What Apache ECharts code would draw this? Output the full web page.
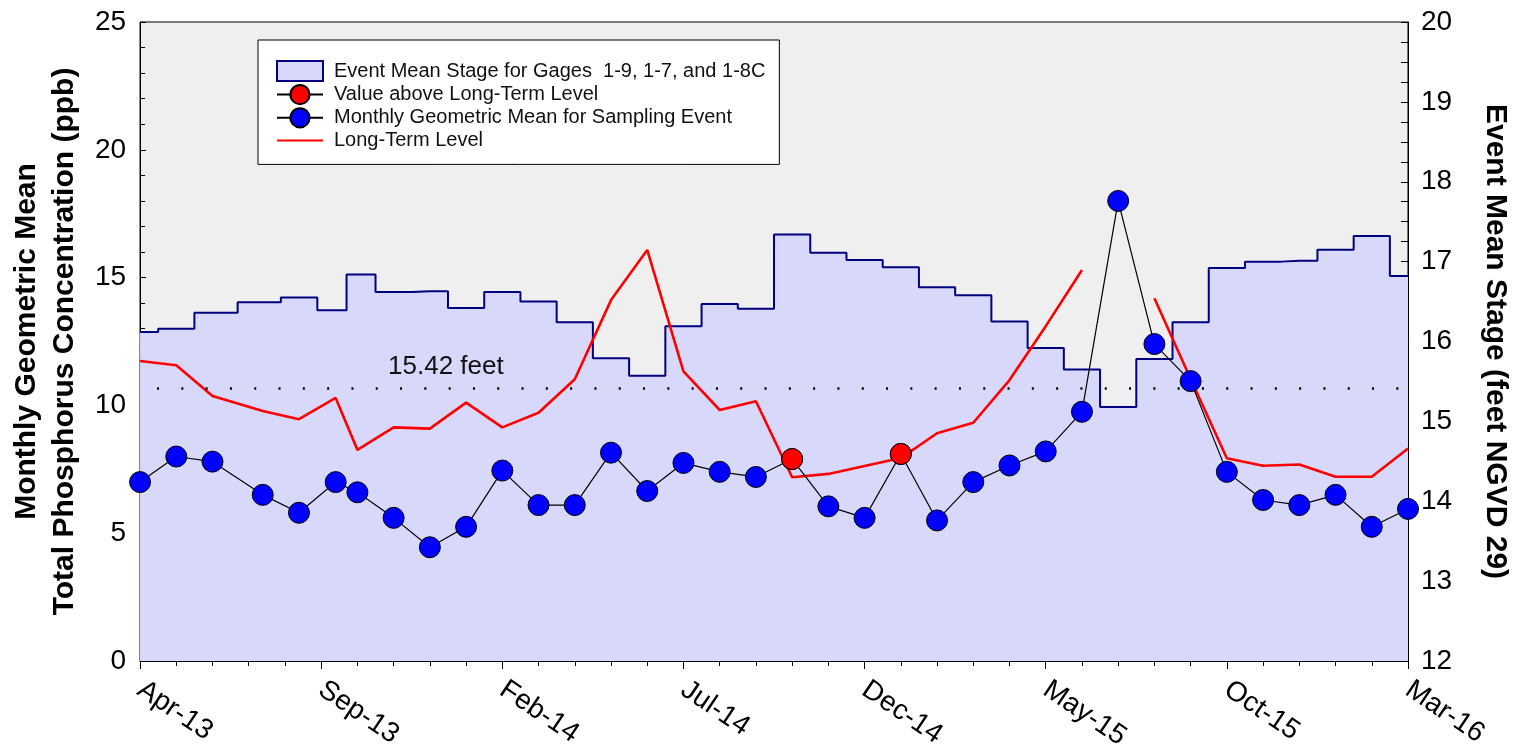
<!DOCTYPE html>
<html>
<head>
<meta charset="utf-8">
<script src="https://cdn.jsdelivr.net/npm/echarts@6/dist/echarts.min.js"></script>
<style>
html,body{margin:0;padding:0;background:#fff;}
#chart{width:1522px;height:756px;}
</style>
</head>
<body>
<div id="chart"></div>
<script>
// Sampling event dates
const dates = ['2013-04-01','2013-05-01','2013-06-01','2013-07-13','2013-08-13','2013-09-13','2013-10-01','2013-11-01','2013-12-01',
  '2014-01-01','2014-02-01','2014-03-01','2014-04-01','2014-05-01','2014-06-01','2014-07-01','2014-08-01','2014-09-01','2014-10-01','2014-11-01','2014-12-01',
  '2015-01-01','2015-02-01','2015-03-01','2015-04-01','2015-05-01','2015-06-01','2015-07-01','2015-08-01','2015-09-01','2015-10-01','2015-11-01','2015-12-01',
  '2016-01-01','2016-02-01','2016-03-01'];
// Monthly geometric mean TP (ppb)
const tpValues = [7.0, 8.0, 7.8, 6.5, 5.8, 7.0, 6.6, 5.6, 4.45, 5.25, 7.45, 6.1, 6.1, 8.15, 6.65, 7.75, 7.4, 7.2, 7.9, 6.05, 5.6,
  8.1, 5.5, 7.0, 7.65, 8.2, 9.75, 18.0, 12.4, 10.95, 7.4, 6.3, 6.1, 6.5, 5.25, 5.95];
// Long-term level (ppb); null = no value
const longTermLevel = [11.74, 11.57, 10.37, 9.78, 9.46, 10.29, 8.26, 9.14, 9.09, 10.11, 9.14, 9.71, 11.02, 14.12, 16.08, 11.33, 9.82, 10.16, 7.19, 7.32, 7.63,
  7.94, 8.91, 9.32, 10.99, 13.1, 15.3, null, 14.19, 11.03, 7.93, 7.64, 7.69, 7.21, 7.21, 8.31];
// Event mean stage (feet NGVD 29)
const stageValues = [16.12, 16.16, 16.36, 16.49, 16.55, 16.39, 16.84, 16.62, 16.63, 16.42, 16.62, 16.50, 16.24, 15.79, 15.57, 16.19, 16.47, 16.41, 17.34, 17.11, 17.02,
  16.93, 16.68, 16.58, 16.25, 15.92, 15.65, 15.18, 15.78, 16.24, 16.92, 17.00, 17.01, 17.15, 17.32, 16.82];
const tickLabels = ['Apr-13','Sep-13','Feb-14','Jul-14','Dec-14','May-15','Oct-15','Mar-16'];
const stageReference = 15.42;

const FONT = 'Arial, "Liberation Sans", sans-serif';

// months since April 2013 (fractional, by day of month)
function monthPos(s) {
  const p = s.split('-').map(Number);
  const dim = new Date(p[0], p[1], 0).getDate();
  return (p[0] - 2013) * 12 + (p[1] - 4) + (p[2] - 1) / dim;
}
const xs = dates.map(monthPos);
const stageData = xs.map((x, i) => [x, stageValues[i]]);
const tpData = xs.map((x, i) => [x, tpValues[i]]);
const ltData = xs.map((x, i) => [x, longTermLevel[i] == null ? '-' : longTermLevel[i]]);
const aboveData = xs.map((x, i) => [x, (longTermLevel[i] != null && tpValues[i] > longTermLevel[i]) ? tpValues[i] : '-']);

const chart = echarts.init(document.getElementById('chart'), null, {renderer: 'canvas'});
chart.setOption({
  animation: false,
  backgroundColor: '#ffffff',
  textStyle: {fontFamily: FONT},
  grid: {left: 140, right: 114, top: 22, bottom: 95, show: true, backgroundColor: '#efefef', borderColor: '#000', borderWidth: 1},
  legend: {
    orient: 'vertical', left: 258, top: 40,
    backgroundColor: '#fff', borderColor: '#000', borderWidth: 1,
    padding: [20, 14, 14, 18], itemGap: 2, itemWidth: 46, itemHeight: 24,
    symbolKeepAspect: true,
    textStyle: {fontFamily: FONT, fontSize: 20, color: '#111', padding: [0, 0, 0, 6]},
    data: [
      {name: 'Event Mean Stage for Gages  1-9, 1-7, and 1-8C', icon: 'path://M0,0H46V20H0Z'},
      {name: 'Value above Long-Term Level'},
      {name: 'Monthly Geometric Mean for Sampling Event'},
      {name: 'Long-Term Level', itemStyle: {opacity: 0}}
    ]
  },
  xAxis: {
    type: 'value', min: 0, max: 35, interval: 5,
    axisLine: {lineStyle: {color: '#000', width: 1}},
    axisTick: {show: true, inside: false, length: 8, lineStyle: {color: '#000'}},
    minorTick: {show: true, splitNumber: 5, length: 5, lineStyle: {color: '#000'}},
    splitLine: {show: false},
    axisLabel: {
      rotate: -34, margin: 26, fontSize: 28, color: '#000', fontFamily: FONT,
      formatter: v => tickLabels[Math.round(v / 5)]
    }
  },
  yAxis: [
    {
      type: 'value', min: 0, max: 25, interval: 5, position: 'left',
      name: 'Monthly Geometric Mean\nTotal Phosphorus Concentration (ppb)',
      nameLocation: 'middle', nameRotate: 90, nameGap: 53,
      nameTextStyle: {fontSize: 30, fontWeight: 'bold', color: '#000', lineHeight: 38, fontFamily: FONT},
      axisLine: {show: true, lineStyle: {color: '#000', width: 1}},
      axisTick: {show: true, inside: true, length: 6, lineStyle: {color: '#000'}},
      minorTick: {show: true, splitNumber: 5, length: 5, lineStyle: {color: '#000'}},
      splitLine: {show: false},
      axisLabel: {fontSize: 28, color: '#000', margin: 14, fontFamily: FONT}
    },
    {
      type: 'value', min: 12, max: 20, interval: 1, position: 'right',
      name: 'Event Mean Stage (feet NGVD 29)',
      nameLocation: 'middle', nameRotate: -90, nameGap: 72,
      nameTextStyle: {fontSize: 30, fontWeight: 'bold', color: '#000', lineHeight: 30, fontFamily: FONT},
      axisLine: {show: true, lineStyle: {color: '#000', width: 1}},
      axisTick: {show: true, inside: true, length: 7, lineStyle: {color: '#000'}},
      minorTick: {show: true, splitNumber: 4, length: 7, lineStyle: {color: '#000'}},
      splitLine: {show: false},
      axisLabel: {fontSize: 28, color: '#000', margin: 13, fontFamily: FONT}
    }
  ],
  series: [
    {
      name: 'Event Mean Stage for Gages  1-9, 1-7, and 1-8C',
      type: 'line', yAxisIndex: 1, step: 'middle', symbol: 'none',
      data: stageData,
      lineStyle: {color: '#000080', width: 2},
      itemStyle: {color: '#d8d8fa', borderColor: '#000080', borderWidth: 2},
      areaStyle: {color: '#d8d8fa', opacity: 1, origin: 'start'},
      z: 1,
      markLine: {
        silent: true, symbol: 'none',
        lineStyle: {color: '#000', width: 2.5, type: [2, 22.3], dashOffset: 7.3},
        label: {
          show: true, position: 'insideStartTop', formatter: '15.42 feet',
          fontSize: 26, color: '#111', fontFamily: FONT, distance: 8, padding: [0, 0, 0, 240]
        },
        data: [{yAxis: stageReference}]
      }
    },
    {
      name: 'Long-Term Level',
      type: 'line', yAxisIndex: 0, symbol: 'none', connectNulls: false,
      data: ltData,
      lineStyle: {color: '#ff0000', width: 2.6},
      itemStyle: {color: '#ff0000'},
      z: 3
    },
    {
      name: 'Monthly Geometric Mean for Sampling Event',
      type: 'line', yAxisIndex: 0, symbol: 'circle', symbolSize: 21, showAllSymbol: true,
      data: tpData,
      lineStyle: {color: '#000', width: 1.2},
      itemStyle: {color: '#0000ff', borderColor: '#000', borderWidth: 1},
      z: 4
    },
    {
      name: 'Value above Long-Term Level',
      type: 'line', yAxisIndex: 0, symbol: 'circle', symbolSize: 21, showAllSymbol: true, connectNulls: false,
      data: aboveData,
      lineStyle: {color: '#000', width: 1.2},
      itemStyle: {color: '#ff0000', borderColor: '#000', borderWidth: 1},
      z: 5
    }
  ]
});
</script>
</body>
</html>
